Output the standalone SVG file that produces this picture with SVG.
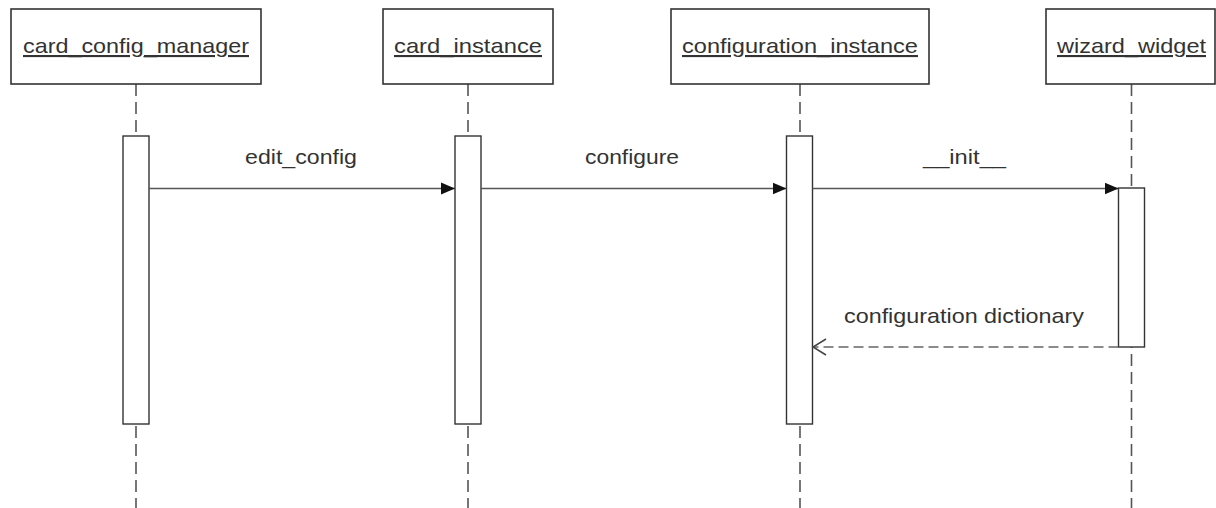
<svg xmlns="http://www.w3.org/2000/svg" width="1216" height="508" viewBox="0 0 1216 508">
  <style>
    .obj { fill: #fff; stroke: #333; stroke-width: 1.6; }
    .act { fill: #fff; stroke: #333; stroke-width: 1.4; }
    .life { stroke: #555; stroke-width: 1.6; stroke-dasharray: 12 6; fill: none; }
    .msg { stroke: #555; stroke-width: 1.6; fill: none; }
    .ret { stroke: #666; stroke-width: 1.6; stroke-dasharray: 10 5; fill: none; }
    .name { font-family: "Liberation Sans", Arial, sans-serif; font-size: 21px; fill: #333; text-anchor: middle; text-decoration: underline; }
    .label { font-family: "Liberation Sans", Arial, sans-serif; font-size: 21px; fill: #333; text-anchor: middle; }
  </style>
  <defs>
    <marker id="solidHead" markerWidth="16" markerHeight="14" refX="14" refY="7" orient="auto" markerUnits="userSpaceOnUse">
      <path d="M0,1 L14,7 L0,13 Z" fill="#111"/>
    </marker>
    <marker id="openHead" markerWidth="16" markerHeight="20" refX="14" refY="10" orient="auto" markerUnits="userSpaceOnUse">
      <path d="M1,2 L14,10 L1,18" fill="none" stroke="#444" stroke-width="1.5"/>
    </marker>
  </defs>

  <!-- lifelines -->
  <g id="lifelines">
    <line class="life" x1="136" y1="84" x2="136" y2="508"/>
    <line class="life" x1="468" y1="84" x2="468" y2="508"/>
    <line class="life" x1="800" y1="84" x2="800" y2="508"/>
    <line class="life" x1="1131.5" y1="84" x2="1131.5" y2="508"/>
  </g>

  <g id="card_config_manager">
    <rect class="obj" x="11" y="9" width="250" height="75"/>
    <text class="name" x="136" y="53" textLength="226" lengthAdjust="spacingAndGlyphs">card_config_manager</text>
    <rect class="act" x="123" y="136" width="26" height="288"/>
  </g>

  <g id="card_instance">
    <rect class="obj" x="383" y="9" width="170" height="75"/>
    <text class="name" x="468" y="53" textLength="148" lengthAdjust="spacingAndGlyphs">card_instance</text>
    <rect class="act" x="455" y="136" width="26" height="288"/>
  </g>

  <g id="configuration_instance">
    <rect class="obj" x="671" y="9" width="258" height="75"/>
    <text class="name" x="800" y="53" textLength="236" lengthAdjust="spacingAndGlyphs">configuration_instance</text>
    <rect class="act" x="786.5" y="136" width="26" height="288"/>
  </g>

  <g id="wizard_widget">
    <rect class="obj" x="1046" y="9" width="169" height="75"/>
    <text class="name" x="1131.5" y="53" textLength="149" lengthAdjust="spacingAndGlyphs">wizard_widget</text>
    <rect class="act" x="1118.5" y="188" width="26" height="159"/>
  </g>

  <!-- messages -->
  <g id="connectors">
    <line class="msg" x1="149" y1="188.5" x2="455" y2="188.5" marker-end="url(#solidHead)"/>
    <text class="label" x="301" y="164" textLength="112" lengthAdjust="spacingAndGlyphs">edit_config</text>
    <line class="msg" x1="481" y1="188.5" x2="786.5" y2="188.5" marker-end="url(#solidHead)"/>
    <text class="label" x="632" y="164" textLength="94" lengthAdjust="spacingAndGlyphs">configure</text>
    <line class="msg" x1="812.5" y1="188.5" x2="1118.5" y2="188.5" marker-end="url(#solidHead)"/>
    <text class="label" x="964.5" y="164" textLength="83" lengthAdjust="spacingAndGlyphs">__init__</text>
    <line class="ret" x1="1118.5" y1="347" x2="813" y2="347" marker-end="url(#openHead)"/>
    <text class="label" x="964" y="323" textLength="240" lengthAdjust="spacingAndGlyphs">configuration dictionary</text>
  </g>
</svg>
